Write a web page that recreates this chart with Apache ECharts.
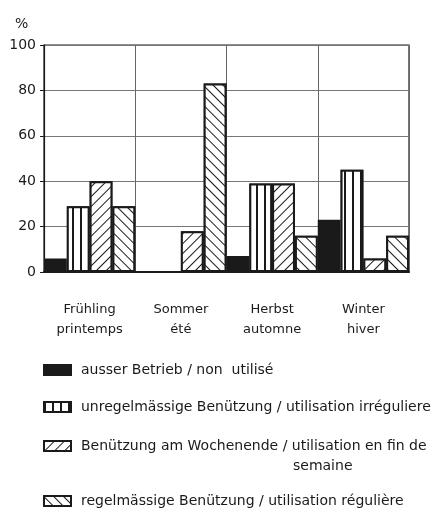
<!DOCTYPE html>
<html><head><meta charset="utf-8">
<script src="https://cdn.jsdelivr.net/npm/echarts@6/dist/echarts.min.js"></script>
<style>html,body{margin:0;padding:0;background:#fff}#c{width:444px;height:508px}</style>
</head><body><div id="c"></div>
<script>
const categories = ['Frühling\nprintemps', 'Sommer\nété', 'Herbst\nautomne', 'Winter\nhiver'];
const yTicks = [0, 20, 40, 60, 80, 100];
const seriesNames = [
  'ausser Betrieb / non  utilisé',
  'unregelmässige Benützung / utilisation irréguliere',
  'Benützung am Wochenende / utilisation en fin de',
  'regelmässige Benützung / utilisation régulière'
];
const ausserBetrieb = [6, 0, 7, 23];
const unregelmaessig = [29, 0, 39, 45];
const wochenende = [40, 18, 39, 6];
const regelmaessig = [29, 83, 16, 16];

const ink = '#1a1a1a';
const font = 'DejaVu Sans';
const decals = [
  null,
  {symbol:'rect', symbolSize:1, dashArrayX:[1.2,5.8], dashArrayY:[10,0], color:ink, backgroundColor:'#fff', rotation:0},
  {symbol:'rect', symbolSize:1, dashArrayX:[1,6], dashArrayY:[10,0], color:ink, backgroundColor:'#fff', rotation:Math.PI/4},
  {symbol:'rect', symbolSize:1, dashArrayX:[10,0], dashArrayY:[1,6], color:ink, backgroundColor:'#fff', rotation:Math.PI/4}
];
const values = [ausserBetrieb, unregelmaessig, wochenende, regelmaessig];
const legendTops = [358, 395, 434, 489];

const chart = echarts.init(document.getElementById('c'), null, {renderer:'canvas'});
chart.setOption({
  animation:false,
  backgroundColor:'#fff',
  textStyle:{fontFamily:font},
  title:{text:'%', left:10, top:12, textStyle:{fontFamily:font, fontSize:14, fontWeight:'normal', color:ink}},
  grid:{left:44, right:35, top:45, bottom:236, show:true, borderColor:ink, borderWidth:1.2},
  xAxis:{type:'category', data:categories,
    axisLine:{lineStyle:{color:ink, width:2}},
    axisTick:{show:false},
    splitLine:{show:true, interval:0, lineStyle:{color:'#666', width:1}},
    axisLabel:{margin:28, fontSize:13, lineHeight:20, color:ink, fontFamily:font}},
  yAxis:{type:'value', min:0, max:100, interval:20,
    axisLine:{show:true, lineStyle:{color:ink, width:1.2}},
    axisTick:{show:true, length:4, lineStyle:{color:ink}},
    splitLine:{lineStyle:{color:'#777', width:1}},
    axisLabel:{fontSize:14, color:ink, margin:8, fontFamily:font}},
  legend: seriesNames.map((n,i)=>({
    data:[{name:n, icon:'rect'}], left:38, top:legendTops[i], itemWidth:27, itemHeight:10,
    selectedMode:false,
    textStyle:{fontFamily:font, fontSize:14, color:ink, padding:[0,0,0,5]}
  })),
  graphic:[{type:'text', left:293, top:459, style:{text:'semaine', font:'14px "DejaVu Sans"', fill:ink}}],
  series: seriesNames.map((n,i)=>({
    name:n, type:'bar', data:values[i], barGap:'0%', barCategoryGap:'0%',
    itemStyle:{color: i===0 ? ink : '#fff', borderColor:ink, borderWidth:2, decal: decals[i] || undefined}
  }))
});
</script></body></html>
